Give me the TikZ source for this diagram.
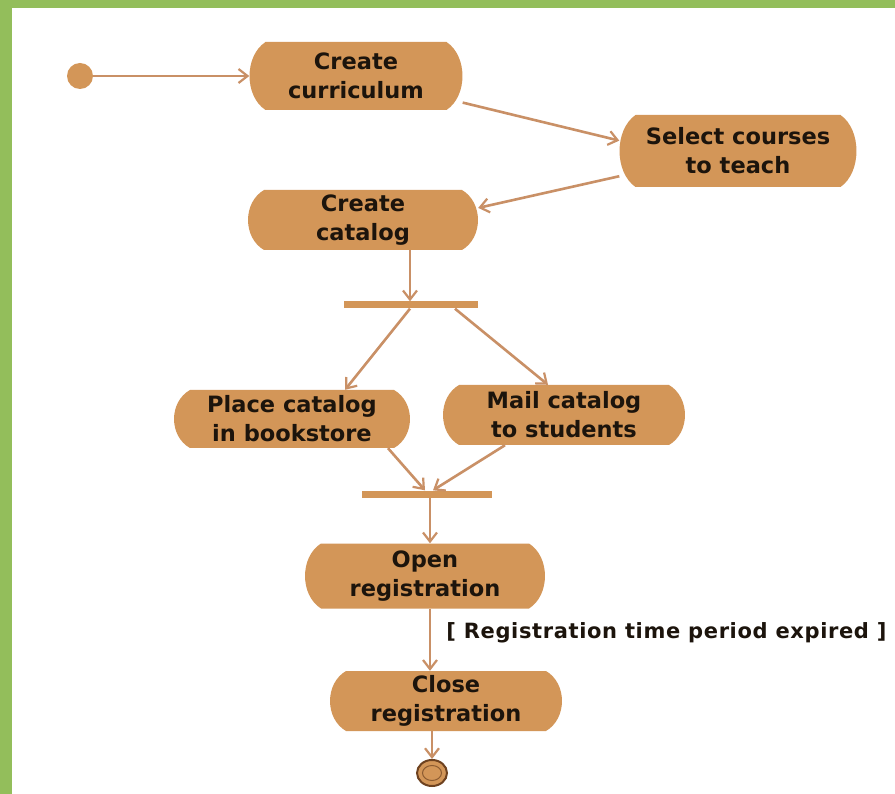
\documentclass[tikz,border=0pt]{standalone}
\usepackage{fontspec}
\setmainfont{DejaVu Sans}
\newfontfamily\guardfont[LetterSpace=3]{DejaVu Sans}
\usetikzlibrary{shapes.geometric,arrows.meta}

\definecolor{frame}{HTML}{93BE5B}
\definecolor{act}{HTML}{D39658}
\definecolor{wire}{HTML}{C99066}
\definecolor{ink}{HTML}{1C140C}
\definecolor{rim}{HTML}{6E4220}

\tikzset{
  actlabel/.style={rectangle, inner sep=0pt, text=ink,
    font=\fontsize{22.5}{29}\selectfont\bfseries, align=center},
  flow/.style={draw=wire, line width=2.6pt,
    -{Straight Barb[length=9pt,width=14pt,line width=2.2pt]}},
  bar/.style={rectangle, fill=act, inner sep=0pt, minimum height=7pt},
  guard/.style={text=ink, font=\guardfont\fontsize{21}{25}\selectfont\bfseries, inner sep=0pt}
}

% activity: flat top and bottom, convex ends; #1 name, #2 x, #3 y, #4 width, #5 height, #6 text
\newcommand\activity[6]{%
  \fill[act] ({#2-#4/2+16},{#3-#5/2}) -- ({#2+#4/2-16},{#3-#5/2})
    .. controls ({#2+#4/2+5.3},{#3-#5/3.4}) and ({#2+#4/2+5.3},{#3+#5/3.4}) .. ({#2+#4/2-16},{#3+#5/2})
    -- ({#2-#4/2+16},{#3+#5/2})
    .. controls ({#2-#4/2-5.3},{#3+#5/3.4}) and ({#2-#4/2-5.3},{#3-#5/3.4}) .. cycle;
  \node[actlabel, minimum width=#4pt, minimum height=#5pt] (#1) at (#2,#3) {#6};%
}

\begin{document}
\begin{tikzpicture}[x=1pt,y=-1pt]
  \useasboundingbox (0,0) rectangle (895,794);
  \fill[white] (0,0) rectangle (895,794);
  % green frame
  \fill[frame] (0,0) rectangle (895,8);
  \fill[frame] (0,0) rectangle (12,794);

  % initial state
  \node[circle, fill=act, minimum size=26pt, inner sep=0pt] (start) at (80,76) {};

  % activities
  \activity{cc}{356}{76}{213}{68}{Create\\curriculum}
  \activity{sc}{738}{151}{237}{72}{Select courses\\to teach}
  \activity{cat}{363}{220}{230}{60}{Create\\catalog}
  \activity{pc}{292}{419}{236}{58}{Place catalog\\in bookstore}
  \activity{mc}{564}{415}{242}{60}{Mail catalog\\to students}
  \activity{open}{425}{576}{240}{65}{Open\\registration}
  \activity{close}{446}{701}{232}{60}{Close\\registration}

  % fork and join bars
  \node[bar, minimum width=134pt] (fork) at (411,305) {};
  \node[bar, minimum width=130pt] (join) at (427,494) {};

  % final state
  \node[ellipse, draw=rim, line width=2pt, fill=act, minimum width=30pt, minimum height=26pt, inner sep=0pt] (end) at (432,773) {};
  \node[ellipse, draw=rim!70!act, line width=1pt, minimum width=19pt, minimum height=15pt, inner sep=0pt] (endcore) at (end.center) {};

  % control flow
  \draw[flow] (start) -- (cc.west);
  \draw[flow] (cc.-14) -- (sc.175);
  \draw[flow] (sc.192) -- (cat.6);
  \draw[flow] ([xshift=47pt]cat.south) -- ([xshift=-1pt]fork.north);
  \draw[flow] ([xshift=-1pt]fork.south) -- ([xshift=53pt]pc.north);
  \draw[flow] ([xshift=44pt]fork.south) -- ([xshift=-16pt]mc.north);
  \draw[flow] ([xshift=96pt]pc.south) -- ([xshift=-2pt]join.north);
  \draw[flow] ([xshift=-59pt]mc.south) -- ([xshift=6pt]join.north);
  \draw[flow] ([xshift=3pt]join.south) -- ([xshift=5pt]open.north);
  \draw[flow] ([xshift=5pt]open.south) -- node[guard, anchor=west, pos=0.38, xshift=15pt] {[ Registration time period expired ]} ([xshift=-16pt]close.north);
  \draw[flow] ([xshift=-14pt]close.south) -- (end.north);
\end{tikzpicture}
\end{document}
